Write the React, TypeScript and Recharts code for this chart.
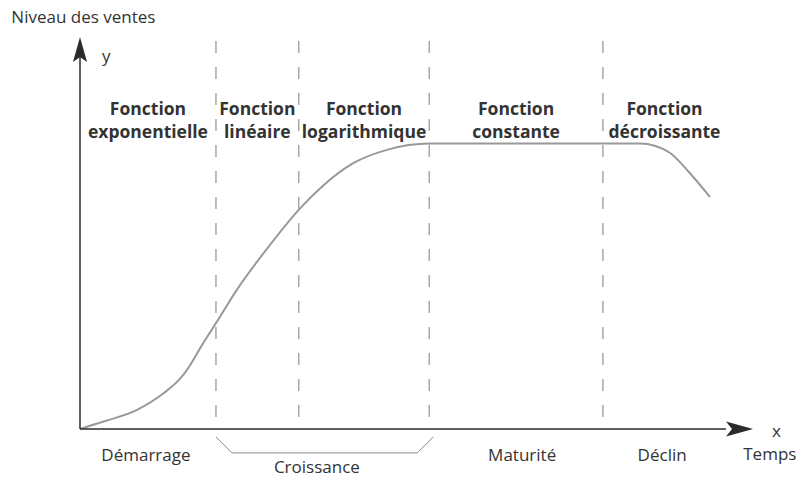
import React from "react";
import { LineChart, Line, XAxis, YAxis, ReferenceLine, ReferenceDot } from "recharts";

// Product life cycle curve (time units 0..100, sales level 0..100)
const timeValues = [0, 3.5, 8.4, 12.4, 14.9, 15.9, 18.3, 20.2, 23.3, 28.2, 32.5, 36.2, 40.6, 45.6, 52.0, 83.2, 85.5, 87.7, 90.6, 93.6];
const salesValues = [0, 1.9, 4.8, 9.1, 12.9, 15.1, 21.9, 27.0, 35.5, 46.9, 55.9, 62.2, 67.8, 71.2, 72.8, 72.8, 72.2, 70.4, 65.3, 59.2];

// Phase boundaries (dashed lines)
const phaseBoundaries = [20.2, 32.5, 51.9, 77.7];
const curveEnd = 96;

// Function labels (two lines each) for each segment
const functionLabels = [
  ["Fonction", "exponentielle"],
  ["Fonction", "linéaire"],
  ["Fonction", "logarithmique"],
  ["Fonction", "constante"],
  ["Fonction", "décroissante"],
];

// Phase names below the time axis
const phaseNames = ["Démarrage", "Croissance", "Maturité", "Déclin"];
const phaseNameX = [9.8, 35.2, 65.7, 86.5];
const phaseNameY = [-8.2, -11.3, -8.2, -8.2];

// Bracket under the growth phase
const bracketPoints = [
  { x: 20.2, y: -2.0 },
  { x: 22.6, y: -6.1 },
  { x: 50.1, y: -6.1 },
  { x: 52.5, y: -2.0 },
];

const data = timeValues.map((t, i) => ({ t, v: salesValues[i] }));
const edges = [0, ...phaseBoundaries, curveEnd];
const labelCenters = functionLabels.map((_, i) => (edges[i] + edges[i + 1]) / 2);

const FONT = "'Open Sans', 'Noto Sans', sans-serif";
const TXT = "#333";

const textShape =
  (lines: string[], opts: { anchor?: string; bold?: boolean; size?: number; lh?: number }) =>
  (p: any) => {
    const anchor = opts.anchor || "middle";
    return (
      <text
        x={p.cx}
        y={p.cy}
        textAnchor={anchor}
        fontFamily={FONT}
        fontSize={opts.size || 17}
        fontWeight={opts.bold ? 700 : 400}
        fill={TXT}
      >
        {lines.map((l, i) => (
          <tspan key={i} x={p.cx} dy={i ? opts.lh || 22 : 0}>
            {l}
          </tspan>
        ))}
      </text>
    );
  };

const upArrow = (p: any) => (
  <path
    d={`M${p.cx},${p.cy} L${p.cx - 7},${p.cy + 25} L${p.cx},${p.cy + 20} L${p.cx + 7},${p.cy + 25} Z`}
    fill="#2b2b2b"
  />
);
const rightArrow = (p: any) => (
  <path
    d={`M${p.cx},${p.cy} L${p.cx - 27},${p.cy - 7.5} L${p.cx - 21},${p.cy} L${p.cx - 27},${p.cy + 7.5} Z`}
    fill="#2b2b2b"
  />
);

export default function App() {
  return (
    <div style={{ position: "absolute", left: 0, top: 0, width: 799, height: 479, background: "#fff" }}>
      <LineChart
        width={799}
        height={479}
        data={data}
        margin={{ top: 37, right: 46, bottom: 50, left: 80 }}
      >
        <XAxis dataKey="t" type="number" domain={[0, 100]} hide allowDataOverflow />
        <YAxis type="number" domain={[0, 100]} hide allowDataOverflow />

        {phaseBoundaries.map((b) => (
          <ReferenceLine
            key={b}
            segment={[{ x: b, y: 99 }, { x: b, y: 0 }]}
            stroke="#a8a8a8"
            strokeWidth={1.5}
            strokeDasharray="12 14"
            ifOverflow="visible"
          />
        ))}

        <Line
          type="monotone"
          dataKey="v"
          stroke="#999"
          strokeWidth={2}
          dot={false}
          isAnimationActive={false}
        />

        {/* axes */}
        <ReferenceLine segment={[{ x: 0, y: 0 }, { x: 0, y: 95 }]} stroke="#2b2b2b" strokeWidth={1.5} ifOverflow="visible" />
        <ReferenceLine segment={[{ x: 0, y: 0 }, { x: 96, y: 0 }]} stroke="#2b2b2b" strokeWidth={1.5} ifOverflow="visible" />
        <ReferenceDot x={0} y={100} r={0} shape={upArrow} ifOverflow="visible" />
        <ReferenceDot x={100} y={0} r={0} shape={rightArrow} ifOverflow="visible" />

        {/* bracket */}
        {bracketPoints.slice(0, -1).map((pt, i) => (
          <ReferenceLine
            key={"br" + i}
            segment={[pt, bracketPoints[i + 1]]}
            stroke="#8a8a8a"
            strokeWidth={1}
            ifOverflow="visible"
          />
        ))}

        {/* function labels */}
        {functionLabels.map((lines, i) => (
          <ReferenceDot
            key={"fl" + i}
            x={labelCenters[i]}
            y={80.0}
            r={0}
            ifOverflow="visible"
            shape={textShape(lines, { bold: true, size: 17.5, lh: 23 })}
          />
        ))}

        {/* phase names */}
        {phaseNames.map((n, i) => (
          <ReferenceDot
            key={"pn" + i}
            x={phaseNameX[i]}
            y={phaseNameY[i]}
            r={0}
            ifOverflow="visible"
            shape={textShape([n], { size: 17 })}
          />
        ))}

        {/* axis titles */}
        <ReferenceDot x={-10.2} y={103.6} r={0} ifOverflow="visible" shape={textShape(["Niveau des ventes"], { anchor: "start", size: 17 })} />
        <ReferenceDot x={3.9} y={93.6} r={0} ifOverflow="visible" shape={textShape(["y"], { size: 17 })} />
        <ReferenceDot x={103.5} y={-2.0} r={0} ifOverflow="visible" shape={textShape(["x"], { size: 17 })} />
        <ReferenceDot x={102.5} y={-7.9} r={0} ifOverflow="visible" shape={textShape(["Temps"], { size: 17 })} />
      </LineChart>
    </div>
  );
}
